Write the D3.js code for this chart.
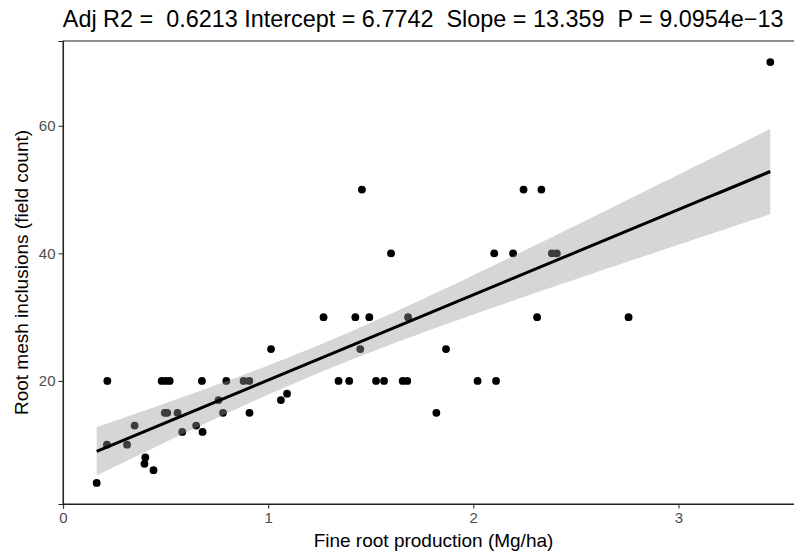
<!DOCTYPE html>
<html>
<head>
<meta charset="utf-8">
<script src="https://cdn.jsdelivr.net/npm/d3@7"></script>
<style>
  html, body { margin: 0; padding: 0; background: #fff; }
  svg { display: block; }
  text { font-family: "Liberation Sans", Arial, Helvetica, sans-serif; }
</style>
</head>
<body>
<svg id="chart" width="794" height="554"></svg>
<script>
// ---- data ----
const fineRootProduction = [
  0.164, 0.216, 0.214, 0.312, 0.349, 0.401, 0.397, 0.441, 0.481, 0.501,
  0.520, 0.496, 0.508, 0.558, 0.581, 0.649, 0.677, 0.680, 0.758, 0.780,
  0.796, 0.880, 0.908, 0.909, 1.014, 1.062, 1.092, 1.270, 1.343, 1.395,
  1.425, 1.457, 1.449, 1.493, 1.526, 1.565, 1.599, 1.656, 1.678, 1.682,
  1.820, 1.867, 2.021, 2.102, 2.111, 2.194, 2.245, 2.311, 2.332, 2.383,
  2.407, 2.757, 3.448
];
const meshInclusions = [
  4, 20, 10, 10, 13, 8, 7, 6, 20, 20,
  20, 15, 15, 15, 12, 13, 20, 12, 17, 15,
  20, 20, 20, 15, 25, 17, 18, 30, 20, 20,
  30, 50, 25, 30, 20, 20, 40, 20, 20, 30,
  15, 25, 20, 40, 20, 40, 50, 30, 50, 40,
  40, 30, 70
];
const fitIntercept = 6.7742;
const fitSlope = 13.359;
const fitStats = ["Adj R2 = ", "0.6213", "Intercept =", "6.7742", "Slope =", "13.359", "P =", "9.0954e\u221213"];
const xTicks = [0, 1, 2, 3];
const yTicks = [20, 40, 60];
const xTitle = "Fine root production (Mg/ha)";
const yTitle = "Root mesh inclusions (field count)";
const tCrit = 2.0076; // t(0.975, df = n - 2)

// ---- layout ----
const svg = d3.select("#chart");
const panel = { left: 63, right: 804, top: 41, bottom: 504 };

const points = fineRootProduction.map((x, i) => ({ x, y: meshInclusions[i] }));

function expand(ext, m) { const d = (ext[1] - ext[0]) * m; return [ext[0] - d, ext[1] + d]; }
const xScale = d3.scaleLinear().domain(expand(d3.extent(fineRootProduction), 0.05)).range([panel.left, panel.right]);
const yScale = d3.scaleLinear().domain(expand(d3.extent(meshInclusions), 0.05)).range([panel.bottom, panel.top]);

// ---- regression band ----
const n = points.length;
const xbar = d3.mean(fineRootProduction);
const sxx = d3.sum(fineRootProduction, x => (x - xbar) ** 2);
const sse = d3.sum(points, p => (p.y - (fitIntercept + fitSlope * p.x)) ** 2);
const s = Math.sqrt(sse / (n - 2));
const [xmin, xmax] = d3.extent(fineRootProduction);
const band = d3.range(0, 81).map(i => {
  const x = xmin + (xmax - xmin) * i / 80;
  const yhat = fitIntercept + fitSlope * x;
  const se = s * Math.sqrt(1 / n + (x - xbar) ** 2 / sxx);
  return { x, yhat, lo: yhat - tCrit * se, hi: yhat + tCrit * se };
});

// ---- points ----
svg.append("g").selectAll("circle").data(points).join("circle")
  .attr("cx", d => xScale(d.x)).attr("cy", d => yScale(d.y))
  .attr("r", 3.9).attr("fill", "#000");

// ---- ribbon ----
svg.append("path").datum(band)
  .attr("d", d3.area().x(d => xScale(d.x)).y0(d => yScale(d.lo)).y1(d => yScale(d.hi)))
  .attr("fill", "#999999").attr("fill-opacity", 0.4);

// ---- fit line ----
svg.append("path").datum(band)
  .attr("d", d3.line().x(d => xScale(d.x)).y(d => yScale(d.yhat)))
  .attr("fill", "none").attr("stroke", "#000").attr("stroke-width", 3);

// ---- panel border / axes ----
svg.append("rect")
  .attr("x", panel.left).attr("y", panel.top)
  .attr("width", panel.right - panel.left).attr("height", panel.bottom - panel.top)
  .attr("fill", "none").attr("stroke", "#333").attr("stroke-width", 1.1);

const xAxis = d3.axisBottom(xScale).tickValues(xTicks).tickSize(4.5).tickPadding(4).tickFormat(d3.format("d"));
const gx = svg.append("g").attr("transform", `translate(0,${panel.bottom})`).call(xAxis);
const yAxis = d3.axisLeft(yScale).tickValues(yTicks).tickSize(4.5).tickPadding(3).tickFormat(d3.format("d"));
const gy = svg.append("g").attr("transform", `translate(${panel.left},0)`).call(yAxis);
[gx, gy].forEach(g => {
  g.select(".domain").attr("stroke", "#222").attr("stroke-width", 1.1);
  g.selectAll(".tick line").attr("stroke", "#333").attr("stroke-width", 1.1);
  g.selectAll(".tick text").attr("fill", "#4d4d4d").style("font-size", "15px")
    .style("font-family", '"Liberation Sans", Arial, sans-serif');
});

// ---- titles ----
const titleText = `${fitStats[0]} ${fitStats[1]} ${fitStats[2]} ${fitStats[3]}  ${fitStats[4]} ${fitStats[5]}  ${fitStats[6]} ${fitStats[7]}`;
svg.append("text").attr("x", 62.8).attr("y", 27)
  .attr("xml:space", "preserve").style("white-space", "pre")
  .style("font-size", "23.4px").attr("fill", "#000")
  .text(titleText);

svg.append("text").attr("x", (panel.left + panel.right) / 2).attr("y", 547)
  .attr("text-anchor", "middle").style("font-size", "19px").attr("fill", "#000")
  .text(xTitle);

svg.append("text")
  .attr("transform", `translate(28,${(panel.top + panel.bottom) / 2}) rotate(-90)`)
  .attr("text-anchor", "middle").style("font-size", "19px").attr("fill", "#000")
  .text(yTitle);
</script>
</body>
</html>
